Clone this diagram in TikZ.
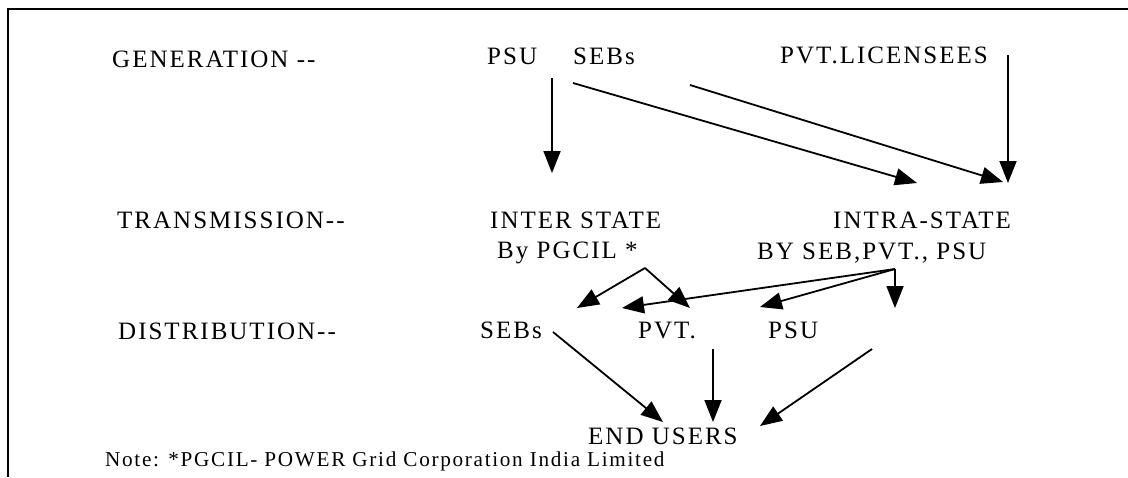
\documentclass[tikz,border=0pt]{standalone}
\usepackage{fontspec}
\setmainfont{Liberation Serif}[LetterSpace=8,Ligatures=NoCommon]
\usetikzlibrary{arrows.meta}
\begin{document}
\begin{tikzpicture}[x=1pt,y=-1pt,
  lbl/.style={anchor=base west,inner sep=0pt,font=\fontsize{25}{29}\selectfont},
  note/.style={anchor=base west,inner sep=0pt,font=\fontsize{21.2}{25}\selectfont},
  conn/.style={line width=1.8pt,-{Triangle[length=22pt,width=17pt]}},
  frame/.style={line width=2pt}]
\useasboundingbox (0,0) rectangle (1128,477);
\draw[frame] (1128,9) -- (8,9) -- (8,477);
% row 1
\node[lbl] (gen) at (112,67) {GENERATION -{}-};
\node[lbl] (gpsu) at (487,64) {PSU};
\node[lbl] (gseb) at (573,64) {SEBs};
\node[lbl] (gpvt) at (780,63) {PVT.LICENSEES};
% row 2
\node[lbl] (tra) at (117,228) {TRANSMISSION-{}-};
\node[lbl] (inter) at (490,228) {INTER STATE};
\node[lbl] (pgcil) at (497,258) {By PGCIL *};
\node[lbl] (intra) at (833,228) {INTRA-STATE};
\node[lbl] (byseb) at (757,259) {BY SEB,PVT., PSU};
% row 3
\node[lbl] (dis) at (118,339) {DISTRIBUTION-{}-};
\node[lbl] (dseb) at (480,338) {SEBs};
\node[lbl] (dpvt) at (638,338) {PVT.};
\node[lbl] (dpsu) at (768,338) {PSU};
\node[lbl] (end) at (588,444) {END USERS};
\node[note] (nt) at (105,466) {Note: *PGCIL- POWER Grid Corporation India Limited};
% coordinates
\coordinate (a1s) at (552,78);  \coordinate (a1e) at (552,173);
\coordinate (a2s) at (573,83);  \coordinate (a2e) at (917,183);
\coordinate (a3s) at (690,85);  \coordinate (a3e) at (1003,182);
\coordinate (a4s) at (1008,55); \coordinate (a4e) at (1008,183);
\coordinate (ia) at (645,268);
\coordinate (ib) at (895,269);
\coordinate (t1) at (577,308); \coordinate (t2) at (690,308);
\coordinate (t3) at (622,308); \coordinate (t4) at (760,307);
\coordinate (t5) at (895,308);
\coordinate (e1s) at (553,332); \coordinate (e1e) at (663,422);
\coordinate (e2s) at (713,349); \coordinate (e2e) at (713,422);
\coordinate (e3s) at (872,349); \coordinate (e3e) at (760,426);
% arrows
\draw[conn] (a1s) -- (a1e);
\draw[conn] (a2s) -- (a2e);
\draw[conn] (a3s) -- (a3e);
\draw[conn] (a4s) -- (a4e);
\draw[conn] (ia) -- (t1);
\draw[conn] (ia) -- (t2);
\draw[conn] (ib) -- (t3);
\draw[conn] (ib) -- (t4);
\draw[conn] (ib) -- (t5);
\draw[conn] (e1s) -- (e1e);
\draw[conn] (e2s) -- (e2e);
\draw[conn] (e3s) -- (e3e);
\end{tikzpicture}
\end{document}
